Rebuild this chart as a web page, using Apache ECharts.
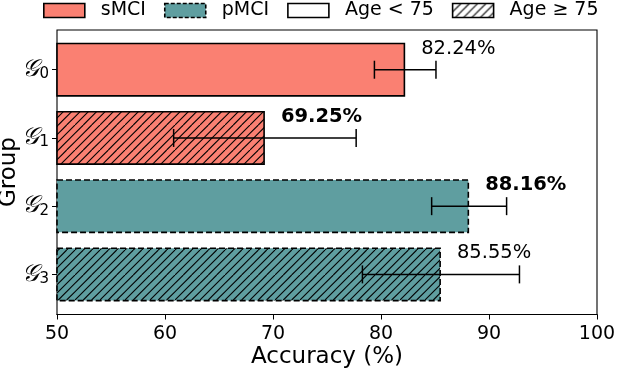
<!DOCTYPE html>
<html lang="en">
<head>
	<meta charset="UTF-8">
	<title>Accuracy by group</title>
	<style>
		html, body { margin: 0; padding: 0; background: #fff; }
	</style>
</head>
<body>
	<div id="main" style="width: 618px;height: 370px"></div>
	<script src="https://cdn.jsdelivr.net/npm/echarts@6/dist/echarts.min.js"></script>
	<script>
		// data
		var groups = ['0', '1', '2', '3'];
		var accuracy = [82.24, 69.25, 88.16, 85.55];
		var errHalf = [2.85, 8.45, 3.47, 7.27];
		var cohort = ['sMCI', 'sMCI', 'pMCI', 'pMCI'];
		var olderAge = [false, true, false, true];
		var boldLabel = [false, true, true, false];
		var xTicks = [50, 60, 70, 80, 90, 100];

		var SALMON = '#FA8072',
			TEAL = '#5F9EA0',
			FONT = 'DejaVu Sans';

		// '//' hatch tile
		function hatch(bg) {
			var size = 25, c = document.createElement('canvas');
			c.width = size; c.height = size;
			var ctx = c.getContext('2d');
			ctx.fillStyle = bg;
			ctx.fillRect(0, 0, size, size);
			ctx.strokeStyle = '#000';
			ctx.lineWidth = 1.1;
			for (var k = -size; k <= size; k += size / 3) {
				ctx.beginPath();
				ctx.moveTo(k, size);
				ctx.lineTo(k + size, 0);
				ctx.stroke();
			}
			return { image: c, repeat: 'repeat' };
		}

		function barData(name) {
			return accuracy.map(function (v, i) {
				if (cohort[i] !== name) return '-';
				var base = name === 'sMCI' ? SALMON : TEAL;
				return {
					value: v,
					itemStyle: { color: olderAge[i] ? hatch(base) : base },
					label: { fontWeight: boldLabel[i] ? 'bold' : 'normal' }
				};
			});
		}

		var barCommon = {
			type: 'bar',
			xAxisIndex: 0,
			yAxisIndex: 0,
			barWidth: 54,
			barGap: '-100%',
			silent: true,
			label: {
				show: true,
				position: 'right',
				distance: 3,
				offset: [13, -21],
				fontFamily: FONT,
				fontSize: 19.5,
				color: '#000',
				formatter: function (p) { return p.value.toFixed(2) + '%'; }
			}
		};

		var myChart = echarts.init(document.getElementById('main'));
		var option = {
			animation: false,
			textStyle: { fontFamily: FONT },
			legend: {
				data: [
					{ name: 'sMCI', itemStyle: { color: SALMON, borderColor: '#000', borderWidth: 1.6 } },
					{ name: 'pMCI', itemStyle: { color: TEAL, borderColor: '#000', borderWidth: 1.6, borderType: [4, 2] } },
					{ name: 'Age < 75', itemStyle: { color: '#fff', borderColor: '#000', borderWidth: 1.6 } },
					{ name: 'Age \u2265 75', itemStyle: { borderColor: '#000', borderWidth: 1.6 } }
				],
				left: 43,
				top: 1,
				padding: 0,
				icon: 'rect',
				itemWidth: 41,
				itemHeight: 14,
				itemGap: 18,
				textStyle: { fontFamily: FONT, fontSize: 19, color: '#000', padding: [0, 0, 0, 11] }
			},
			grid: [
				{ left: 57, right: 21, top: 35.6, bottom: 61.5, outerBoundsMode: 'none' },
				{ left: 57, right: 21, top: 30, bottom: 55.5, outerBoundsMode: 'none', show: true, borderColor: '#000', borderWidth: 1.1, backgroundColor: 'transparent' }
			],
			xAxis: [
				{ type: 'value', gridIndex: 0, min: 50, max: 100, show: false },
				{
					type: 'value',
					gridIndex: 1,
					min: 50,
					max: 100,
					interval: 10,
					name: 'Accuracy (%)',
					nameLocation: 'middle',
					nameGap: 31,
					nameMoveOverlap: false,
					nameTextStyle: { fontFamily: FONT, fontSize: 23, color: '#000' },
					axisLine: { show: true, lineStyle: { color: '#000', width: 1.1 } },
					axisTick: { show: true, length: 5, lineStyle: { color: '#000' } },
					axisLabel: {
						margin: 10, fontFamily: FONT, fontSize: 19, color: '#000',
						formatter: function (v) { return xTicks.indexOf(v) >= 0 ? String(v) : ''; }
					},
					splitLine: { show: false }
				}
			],
			yAxis: [
				{
					type: 'category',
					gridIndex: 0,
					inverse: true,
					data: groups,
					name: 'Group',
					nameLocation: 'middle',
					nameGap: 36,
					nameMoveOverlap: false,
					nameTextStyle: { fontFamily: FONT, fontSize: 23, color: '#000' },
					axisLine: { show: false },
					axisTick: { show: true, alignWithLabel: true, length: 5, lineStyle: { color: '#000' } },
					axisLabel: {
						margin: 8,
						formatter: function (v) { return '{g|\uD835\uDCA2}{s|' + v + '}'; },
						rich: {
							g: { fontFamily: 'DejaVu Serif', fontStyle: 'italic', fontSize: 24, color: '#000' },
							s: { fontFamily: FONT, fontSize: 15, color: '#000', padding: [9, 0, 0, 0] }
						}
					}
				},
				{ type: 'value', gridIndex: 1, show: false }
			],
			series: [
				Object.assign({}, barCommon, {
					name: 'sMCI',
					itemStyle: { color: SALMON, borderColor: '#000', borderWidth: 1.6 },
					data: barData('sMCI')
				}),
				Object.assign({}, barCommon, {
					name: 'pMCI',
					itemStyle: { color: TEAL, borderColor: '#000', borderWidth: 1.6, borderType: [6, 3] },
					data: barData('pMCI')
				}),
				Object.assign({}, barCommon, {
					name: 'Age < 75',
					itemStyle: { color: '#fff', borderColor: '#000', borderWidth: 1.6 },
					data: []
				}),
				Object.assign({}, barCommon, {
					name: 'Age \u2265 75',
					itemStyle: { color: hatch('#fff'), borderColor: '#000', borderWidth: 1.6 },
					data: []
				}),
				{
					type: 'custom',
					name: 'err',
					xAxisIndex: 0,
					yAxisIndex: 0,
					silent: true,
					z: 5,
					data: accuracy.map(function (v, i) { return [v, i, errHalf[i]]; }),
					encode: { x: 0, y: 1 },
					renderItem: function (params, api) {
						var v = api.value(0), i = api.value(1), e = api.value(2);
						var lo = api.coord([v - e, i]), hi = api.coord([v + e, i]);
						var cap = 9, st = { stroke: '#000', lineWidth: 1.5 };
						return {
							type: 'group',
							children: [
								{ type: 'line', shape: { x1: lo[0], y1: lo[1], x2: hi[0], y2: hi[1] }, style: st },
								{ type: 'line', shape: { x1: lo[0], y1: lo[1] - cap, x2: lo[0], y2: lo[1] + cap }, style: st },
								{ type: 'line', shape: { x1: hi[0], y1: hi[1] - cap, x2: hi[0], y2: hi[1] + cap }, style: st }
							]
						};
					}
				}
			]
		};

		myChart.setOption(option);
	</script>
</body>
</html>
